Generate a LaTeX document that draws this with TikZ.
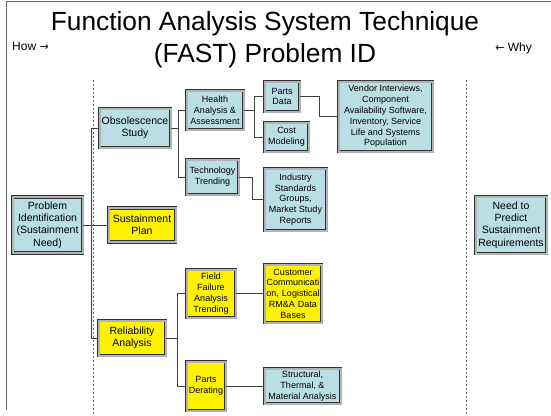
\documentclass[tikz,border=0pt]{standalone}
\usepackage{fontspec}
\setmainfont{Liberation Sans}
\newfontfamily\arrowfont{DejaVu Sans}
\definecolor{bluefill}{RGB}{185,222,228}
\definecolor{linegray}{RGB}{64,64,64}
\begin{document}
\begin{tikzpicture}[x=1pt,y=-1pt,
  box/.style={draw=black!80, line width=0.55pt, double=gray!60, double distance=2pt,
    inner sep=0pt, align=center, text=black},
  bl/.style={box, fill=bluefill},
  yl/.style={box, fill=yellow},
  big/.style={font=\fontsize{10.5}{12.4}\selectfont},
  sm/.style={font=\fontsize{9}{10.8}\selectfont},
  conn/.style={draw=linegray, line width=0.9pt},
  guide/.style={draw=gray!90!black, line width=0.8pt, dash pattern=on 2pt off 2pt}]
\useasboundingbox (0,0) rectangle (551,415);
% frame
\draw[gray!80!black, line width=0.8pt] (6,410) -- (6,1) -- (551,1);
% guides
\draw[guide] (93,80) -- (93,415);
\draw[guide] (466,80) -- (466,415);
% titles
\node[anchor=base, font=\fontsize{26.3}{30}\selectfont] (t1) at (265,30) {Function Analysis System Technique};
\node[anchor=base, font=\fontsize{26.3}{30}\selectfont] (t2) at (265,62) {(FAST) Problem ID};
\node[anchor=base west, font=\fontsize{12}{14}\selectfont, inner sep=0pt] (how) at (12,50) {How {\arrowfont\fontsize{11}{13}\selectfont →}};
\node[anchor=base east, font=\fontsize{12}{14}\selectfont, inner sep=0pt] (why) at (532,51) {{\arrowfont\fontsize{11}{13}\selectfont ←} Why};
% nodes
\node[bl, big, minimum width=70, minimum height=56] (pid) at (47.5,225) {Problem\\Identification\\(Sustainment\\Need)};
\node[yl, big, minimum width=67, minimum height=34] (sp) at (142,225) {Sustainment\\Plan};
\node[bl, big, minimum width=71, minimum height=39] (obs) at (135,128) {Obsolescence\\Study};
\node[bl, sm, minimum width=57, minimum height=39] (haa) at (215,110) {Health\\Analysis \&\\Assessment};
\node[bl, sm, minimum width=52, minimum height=35] (tt) at (212.5,177) {Technology\\Trending};
\node[bl, sm, minimum width=35, minimum height=30] (pd) at (282,96.5) {Parts\\Data};
\node[bl, sm, minimum width=44, minimum height=29] (cm) at (286.5,137) {Cost\\Modeling};
\node[bl, sm, minimum width=94, minimum height=70] (vi) at (385.5,116.5) {Vendor Interviews,\\Component\\Availability Software,\\Inventory, Service\\Life and Systems\\Population};
\node[bl, sm, minimum width=62, minimum height=62] (isg) at (295.5,199.5) {Industry\\Standards\\Groups,\\Market Study\\Reports};
\node[bl, big, minimum width=71, minimum height=57] (need) at (511,225) {Need to\\Predict\\Sustainment\\Requirements};
\node[yl, big, minimum width=67, minimum height=35] (ra) at (132,338) {Reliability\\Analysis};
\node[yl, sm, minimum width=49, minimum height=48] (ffa) at (211,293.5) {Field\\Failure\\Analysis\\Trending};
\node[yl, sm, minimum width=57, minimum height=58, text width=57] (cc) at (293,293.5) {Customer\\Communicati\\on, Logistical\\RM\&A Data\\Bases};
\node[yl, sm, minimum width=39, minimum height=49] (pder) at (206,386) {Parts\\Derating};
\node[bl, sm, minimum width=76, minimum height=35] (stm) at (302.5,386) {Structural,\\Thermal, \&\\Material Analysis};
% bus coordinates
\coordinate (b1) at (91,0);
\coordinate (b2) at (178,0);
\coordinate (b3) at (254,0);
\coordinate (b4) at (319,0);
\coordinate (b5) at (252,0);
\coordinate (b6) at (177,0);
% connectors
\draw[conn] (pid.east) -- (sp.west);
\draw[conn] (obs.west) -- (b1 |- obs.west) -- (b1 |- ra.west) -- (ra.west);
\draw[conn] (haa.west) -- (b2 |- haa.west) -- (b2 |- tt.west) -- (tt.west);
\draw[conn] (obs.east) -- (b2 |- obs.east);
\draw[conn] (pd.west) -- (b3 |- pd.west) -- (b3 |- cm.west) -- (cm.west);
\draw[conn] (haa.east) -- (b3 |- haa.east);
\draw[conn] (pd.east) -- (b4 |- pd.east) -- (b4 |- vi.west) -- (vi.west);
\draw[conn] (tt.east) -- (b5 |- tt.east) -- (b5 |- isg.west) -- (isg.west);
\draw[conn] (ffa.west) -- (b6 |- ffa.west) -- (b6 |- pder.west) -- (pder.west);
\draw[conn] (ra.east) -- (b6 |- ra.east);
\draw[conn] (ffa.east) -- (cc.west);
\draw[conn] (pder.east) -- (stm.west);
\end{tikzpicture}
\end{document}
